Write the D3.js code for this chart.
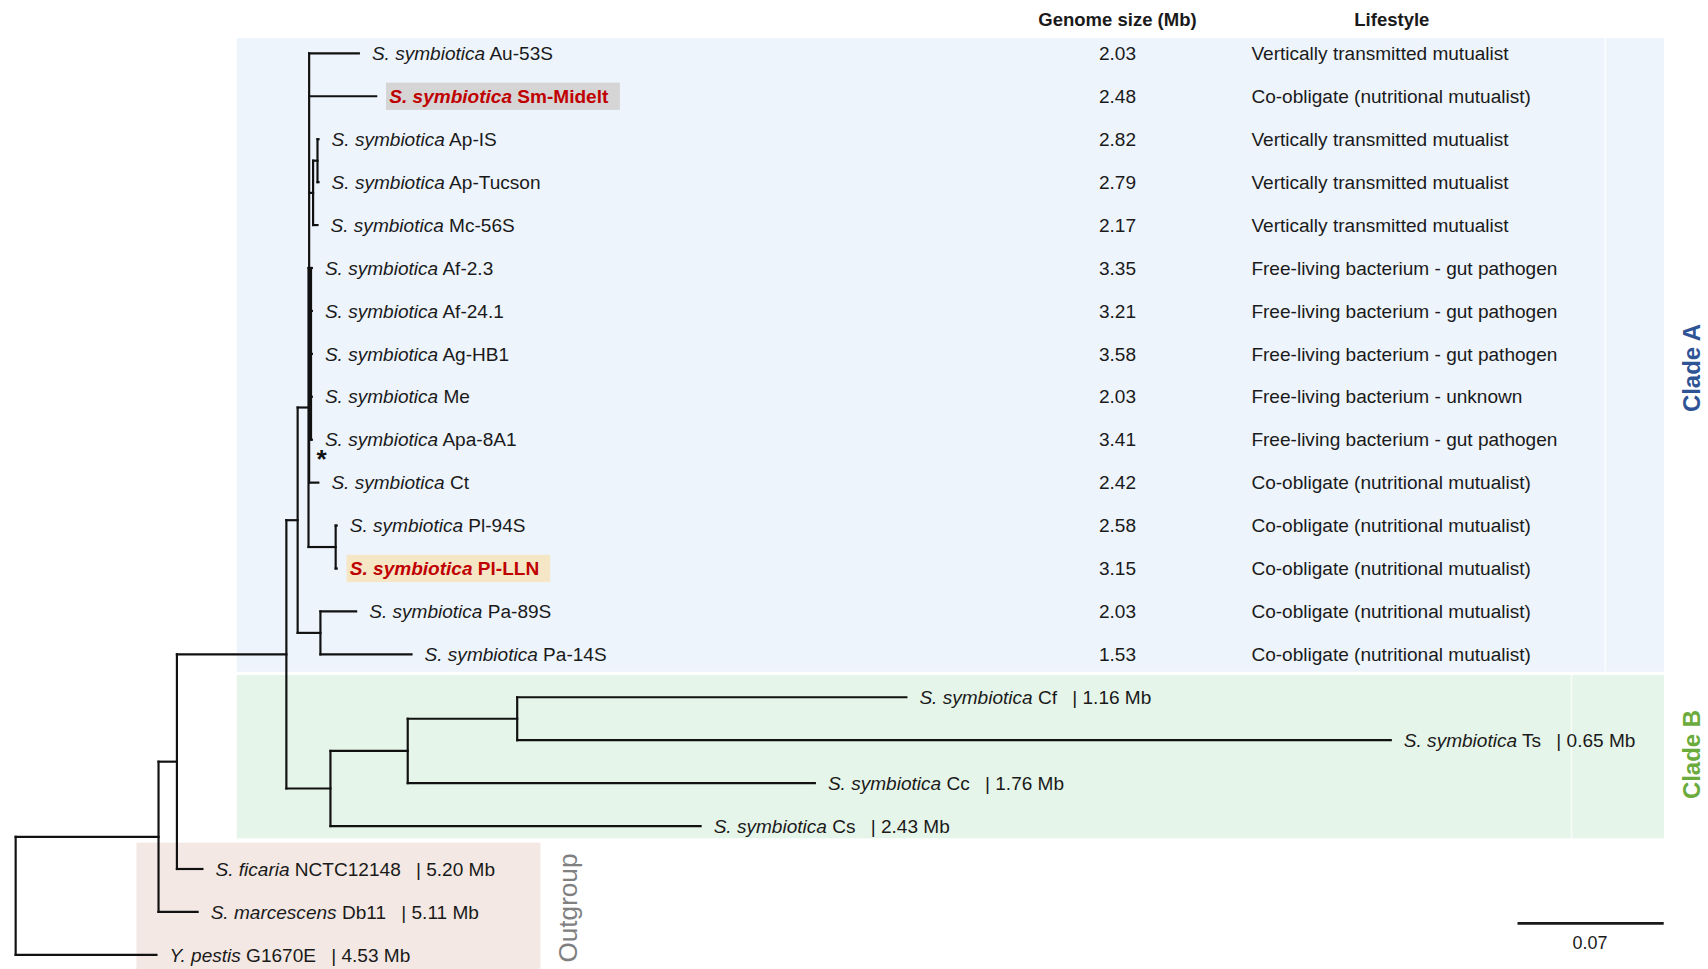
<!DOCTYPE html>
<html>
<head>
<meta charset="utf-8">
<script src="https://cdn.jsdelivr.net/npm/d3@7"></script>
<style>
body { margin: 0; background: #fff; }
svg { display: block; font-family: "Liberation Sans", Arial, sans-serif; }
</style>
</head>
<body>
<div id="chart"></div>
<script>
// tree: node, parent, branch length (substitutions/site); siblings listed top to bottom
var nodeIds = ["root", "n1", "G1670E", "n2", "Db11", "n3", "NCTC12148", "cladeA", "cladeB",
    "A1", "Pa", "U", "PL", "Au-53S", "Sm-Midelt", "Ap", "Af", "Ct", "ApIS", "Mc-56S",
    "Ap-IS", "Ap-Tucson", "Af-2.3", "Af-24.1", "Ag-HB1", "Me", "Apa-8A1", "Pl-94S", "Pl-LLN",
    "Pa-89S", "Pa-14S", "B1", "Cs", "B2", "Cc", "Cf", "Ts"];
var parentIds = ["", "root", "root", "n1", "n1", "n2", "n2", "n3", "n3",
    "cladeA", "cladeA", "A1", "A1", "U", "U", "U", "U", "U", "Ap", "Ap",
    "ApIS", "ApIS", "Af", "Af", "Af", "Af", "Af", "PL", "PL",
    "Pa", "Pa", "cladeB", "cladeB", "B1", "B1", "B2", "B2"];
var branchLengths = [0, 0.0684, 0.0674, 0.0088, 0.0187, 0.0524, 0.0122, 0.0054, 0.0211,
    0.0052, 0.0109, 0.0003, 0.0130, 0.0238, 0.0321, 0.0019, 0.0009, 0.0044, 0.0021, 0.0021,
    0.0005, 0.0005, 0.0004, 0.0004, 0.0004, 0.0004, 0.0004, 0.0005, 0.0005,
    0.0171, 0.0436, 0.0370, 0.1772, 0.0524, 0.1949, 0.1863, 0.4182];

// leaves, top to bottom
var leafGenus = ["S. symbiotica", "S. symbiotica", "S. symbiotica", "S. symbiotica", "S. symbiotica",
    "S. symbiotica", "S. symbiotica", "S. symbiotica", "S. symbiotica", "S. symbiotica",
    "S. symbiotica", "S. symbiotica", "S. symbiotica", "S. symbiotica", "S. symbiotica",
    "S. symbiotica", "S. symbiotica", "S. symbiotica", "S. symbiotica",
    "S. ficaria", "S. marcescens", "Y. pestis"];
var genomeSizes = ["2.03", "2.48", "2.82", "2.79", "2.17", "3.35", "3.21", "3.58", "2.03", "3.41",
    "2.42", "2.58", "3.15", "2.03", "1.53", "1.16", "0.65", "1.76", "2.43", "5.20", "5.11", "4.53"];
var lifestyles = ["Vertically transmitted mutualist", "Co-obligate (nutritional mutualist)",
    "Vertically transmitted mutualist", "Vertically transmitted mutualist",
    "Vertically transmitted mutualist", "Free-living bacterium - gut pathogen",
    "Free-living bacterium - gut pathogen", "Free-living bacterium - gut pathogen",
    "Free-living bacterium - unknown", "Free-living bacterium - gut pathogen",
    "Co-obligate (nutritional mutualist)", "Co-obligate (nutritional mutualist)",
    "Co-obligate (nutritional mutualist)", "Co-obligate (nutritional mutualist)",
    "Co-obligate (nutritional mutualist)"];
var newGenomes = ["Sm-Midelt", "Pl-LLN"];
var scaleBarValue = 0.07;

var boxColors = { "Sm-Midelt": "#d5d5d5", "Pl-LLN": "#f5e6c6" };

var svg = d3.select("#chart").append("svg")
    .attr("width", 1708)
    .attr("height", 969)
    .attr("viewBox", "0 0 1568 890");

// shaded clade panels
svg.append("rect").attr("x", 217).attr("y", 35).attr("width", 1311).attr("height", 582).attr("fill", "#edf4fc");
svg.append("rect").attr("x", 217).attr("y", 620).attr("width", 1311).attr("height", 150).attr("fill", "#e6f5e9");
svg.append("rect").attr("x", 125).attr("y", 774).attr("width", 371).attr("height", 116).attr("fill", "#f3e8e3");
svg.append("line").attr("x1", 1474).attr("x2", 1474).attr("y1", 35).attr("y2", 617)
    .attr("stroke", "#fff").attr("stroke-opacity", 0.7).attr("stroke-width", 1.5);
svg.append("line").attr("x1", 1443).attr("x2", 1443).attr("y1", 620).attr("y2", 770)
    .attr("stroke", "#fff").attr("stroke-opacity", 0.7).attr("stroke-width", 1.5);

var rows = nodeIds.map((id, i) => ({ id: id, parent: parentIds[i], len: branchLengths[i] }));
var root = d3.stratify()
    .id(d => d.id)
    .parentId(d => d.parent || null)(rows);

root.eachBefore(n => n.dist = n.parent ? n.parent.dist + n.data.len : 0);

var x = d3.scaleLinear().domain([0, scaleBarValue]).range([14, 14 + 134.3]);
var leaves = root.leaves();
var y = d3.scalePoint().domain(leaves.map(d => d.id)).range([49, 877]);

root.eachAfter(n => {
    n.py = n.children
        ? (n.children[0].py + n.children[n.children.length - 1].py) / 2
        : y(n.id);
});

var tree = svg.append("g")
    .attr("stroke", "#111")
    .attr("stroke-width", 2)
    .attr("stroke-linecap", "square");

tree.selectAll("line.h")
    .data(root.descendants().filter(n => n.parent))
    .enter().append("line")
    .attr("class", "h")
    .attr("x1", n => x(n.parent.dist))
    .attr("x2", n => x(n.dist))
    .attr("y1", n => n.py)
    .attr("y2", n => n.py);

tree.selectAll("line.v")
    .data(root.descendants().filter(n => n.children))
    .enter().append("line")
    .attr("class", "v")
    .attr("x1", n => x(n.dist))
    .attr("x2", n => x(n.dist))
    .attr("y1", n => n.children[0].py)
    .attr("y2", n => n.children[n.children.length - 1].py);

// leaf labels
var boxes = svg.append("g");
var labels = svg.append("g").attr("font-size", 17.5);

leaves.forEach((leaf, i) => {
    var isNew = newGenomes.indexOf(leaf.id) >= 0;
    var t = labels.append("text")
        .attr("x", x(leaf.dist) + 12)
        .attr("y", leaf.py)
        .attr("dy", "0.35em")
        .attr("fill", isNew ? "#c00000" : "#1a1a1a")
        .attr("font-weight", isNew ? "bold" : "normal");
    t.append("tspan").attr("font-style", "italic").text(leafGenus[i]);
    t.append("tspan").text(" " + leaf.id);
    if (i >= lifestyles.length) {
        t.append("tspan").attr("dx", 14).text("| " + genomeSizes[i] + " Mb");
    }
    if (isNew) {
        var bb = t.node().getBBox();
        boxes.append("rect")
            .attr("x", bb.x - 3)
            .attr("y", leaf.py - 12.5)
            .attr("width", bb.width + 13)
            .attr("height", 25)
            .attr("fill", boxColors[leaf.id]);
    }
});

// table columns
var table = svg.append("g").attr("fill", "#1a1a1a");
table.append("text").attr("x", 1026).attr("y", 18).attr("dy", "0.35em")
    .attr("text-anchor", "middle").attr("font-weight", "bold").attr("font-size", 17)
    .text("Genome size (Mb)");
table.append("text").attr("x", 1278).attr("y", 18).attr("dy", "0.35em")
    .attr("text-anchor", "middle").attr("font-weight", "bold").attr("font-size", 17)
    .text("Lifestyle");

table.selectAll("text.size")
    .data(lifestyles)
    .enter().append("text")
    .attr("class", "size")
    .attr("x", 1026)
    .attr("y", (d, i) => leaves[i].py)
    .attr("dy", "0.35em")
    .attr("text-anchor", "middle")
    .attr("font-size", 17.5)
    .text((d, i) => genomeSizes[i]);

table.selectAll("text.life")
    .data(lifestyles)
    .enter().append("text")
    .attr("class", "life")
    .attr("x", 1149)
    .attr("y", (d, i) => leaves[i].py)
    .attr("dy", "0.35em")
    .attr("font-size", 17.5)
    .text(d => d);

// clade names
svg.append("text")
    .attr("transform", "translate(1553,338) rotate(-90)")
    .attr("dy", "0.35em").attr("text-anchor", "middle")
    .attr("font-weight", "bold").attr("font-size", 22).attr("fill", "#2f5496")
    .text("Clade A");
svg.append("text")
    .attr("transform", "translate(1553,693) rotate(-90)")
    .attr("dy", "0.35em").attr("text-anchor", "middle")
    .attr("font-weight", "bold").attr("font-size", 22).attr("fill", "#6aab3c")
    .text("Clade B");
svg.append("text")
    .attr("transform", "translate(521,834) rotate(-90)")
    .attr("dy", "0.35em").attr("text-anchor", "middle")
    .attr("font-size", 24).attr("fill", "#808080")
    .text("Outgroup");

// asterisk on the node
svg.append("text")
    .attr("x", 295).attr("y", 430)
    .attr("text-anchor", "middle").attr("font-weight", "bold").attr("font-size", 24)
    .attr("fill", "#111")
    .text("*");

// scale bar
var barLen = x(scaleBarValue) - x(0);
svg.append("line")
    .attr("x1", 1393.4).attr("x2", 1393.4 + barLen)
    .attr("y1", 848).attr("y2", 848)
    .attr("stroke", "#1a1a1a").attr("stroke-width", 2.5);
svg.append("text")
    .attr("x", 1393.4 + barLen / 2 - 0.5).attr("y", 866).attr("dy", "0.35em")
    .attr("text-anchor", "middle").attr("font-size", 16.5).attr("fill", "#1a1a1a")
    .text(scaleBarValue);
</script>
</body>
</html>
